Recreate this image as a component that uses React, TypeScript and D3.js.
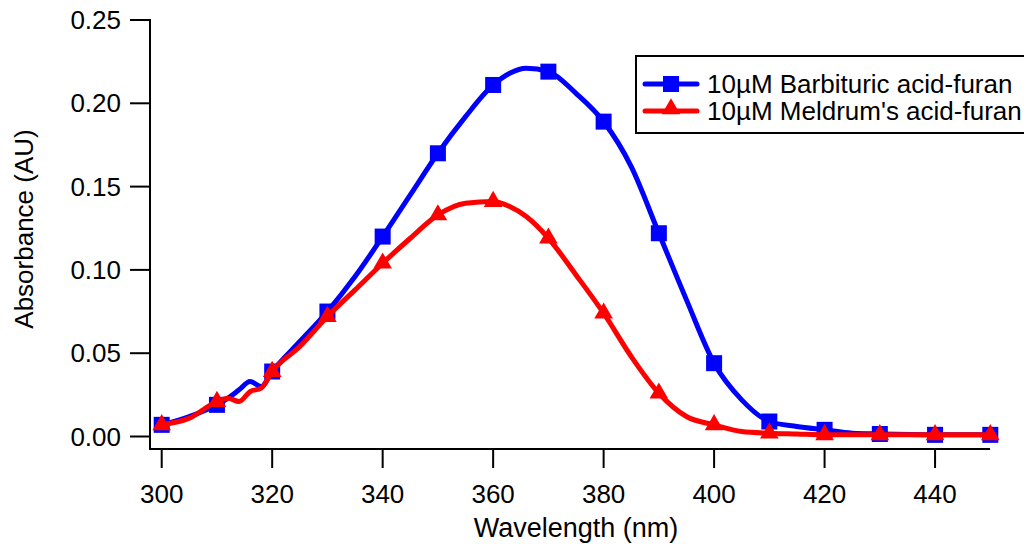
import React from "react";
import * as d3 from "d3";

const wavelengths = [300,305,310,312,314,316,318,320,325,330,335,340,345,350,355,360,363,366,370,375,380,385,390,395,400,405,410,415,420,425,430,440,450];
const barbituric = [0.007,0.012,0.019,0.023,0.028,0.033,0.030,0.039,0.057,0.075,0.096,0.120,0.145,0.170,0.192,0.211,0.218,0.221,0.219,0.206,0.189,0.162,0.122,0.082,0.044,0.022,0.009,0.006,0.004,0.002,0.0015,0.001,0.001];
const meldrum = [0.007,0.011,0.021,0.023,0.021,0.027,0.029,0.039,0.054,0.072,0.088,0.104,0.119,0.133,0.140,0.141,0.138,0.132,0.119,0.097,0.074,0.048,0.026,0.012,0.007,0.003,0.002,0.0015,0.001,0.001,0.001,0.001,0.001];
const xTicks = [300,320,340,360,380,400,420,440];
const yTicks = [0,0.05,0.1,0.15,0.2,0.25];
const seriesNames = ["10µM Barbituric acid-furan", "10µM Meldrum's acid-furan"];

const FONT = "Arial, 'Liberation Sans', sans-serif";

export default function App() {
  const x = d3.scaleLinear().domain([300, 450]).range([161.7, 990.3]);
  const y = d3.scaleLinear().domain([0, 0.25]).range([436.5, 20]);
  const line = d3
    .line<[number, number]>()
    .x((d) => x(d[0]))
    .y((d) => y(d[1]))
    .curve(d3.curveMonotoneX);
  const blueData: [number, number][] = wavelengths.map((w, i) => [w, barbituric[i]]);
  const redData: [number, number][] = wavelengths.map((w, i) => [w, meldrum[i]]);
  const blueMarks = blueData.filter((d) => d[0] % 10 === 0);
  const redMarks = redData.filter((d) => d[0] % 10 === 0);
  const sq = 16;
  const tri = d3.symbol(d3.symbolTriangle, 150)();

  return (
    <svg width={1024} height={544} style={{ position: "absolute", left: 0, top: 0, background: "#fff" }} fontFamily={FONT}>
      <rect width={1024} height={544} fill="#fff" />
      {/* axes */}
      <line x1={150} x2={150} y1={19} y2={450} stroke="#000" strokeWidth={2} />
      <line x1={149} x2={990} y1={449} y2={449} stroke="#000" strokeWidth={2} />
      {yTicks.map((t) => (
        <g key={"y" + t}>
          <line x1={130} x2={150} y1={y(t)} y2={y(t)} stroke="#000" strokeWidth={2} />
          <text x={121} y={y(t)} dy="0.35em" textAnchor="end" fontSize={26} fill="#000">
            {t.toFixed(2)}
          </text>
        </g>
      ))}
      {xTicks.map((t) => (
        <g key={"x" + t}>
          <line x1={x(t)} x2={x(t)} y1={449} y2={468} stroke="#000" strokeWidth={2} />
          <text x={x(t)} y={503} textAnchor="middle" fontSize={26} fill="#000">
            {t}
          </text>
        </g>
      ))}
      <text x={576} y={537} textAnchor="middle" fontSize={27} fill="#000">
        Wavelength (nm)
      </text>
      <text transform="translate(33,229) rotate(-90)" textAnchor="middle" fontSize={26} fill="#000">
        Absorbance (AU)
      </text>

      {/* series */}
      <path d={line(blueData) || ""} fill="none" stroke="#0000ff" strokeWidth={5} strokeLinejoin="round" />
      {blueMarks.map((d) => (
        <rect key={"b" + d[0]} x={x(d[0]) - sq / 2} y={y(d[1]) - sq / 2} width={sq} height={sq} fill="#0000ff" />
      ))}
      <path d={line(redData) || ""} fill="none" stroke="#ff0000" strokeWidth={5} strokeLinejoin="round" />
      {redMarks.map((d) => (
        <path key={"r" + d[0]} d={tri || ""} transform={`translate(${x(d[0])},${y(d[1])})`} fill="#ff0000" />
      ))}

      {/* legend */}
      <rect x={636} y={56} width={400} height={77} fill="#fff" stroke="#000" strokeWidth={2} />
      <line x1={645} x2={697} y1={84} y2={84} stroke="#0000ff" strokeWidth={5} strokeLinecap="round" />
      <rect x={671 - sq / 2} y={84 - sq / 2} width={sq} height={sq} fill="#0000ff" />
      <text x={707} y={84} dy="0.35em" fontSize={26} fill="#000">{seriesNames[0]}</text>
      <line x1={645} x2={697} y1={111} y2={111} stroke="#ff0000" strokeWidth={5} strokeLinecap="round" />
      <path d={tri || ""} transform="translate(671,109)" fill="#ff0000" />
      <text x={707} y={111} dy="0.35em" fontSize={26} fill="#000">{seriesNames[1]}</text>
    </svg>
  );
}
